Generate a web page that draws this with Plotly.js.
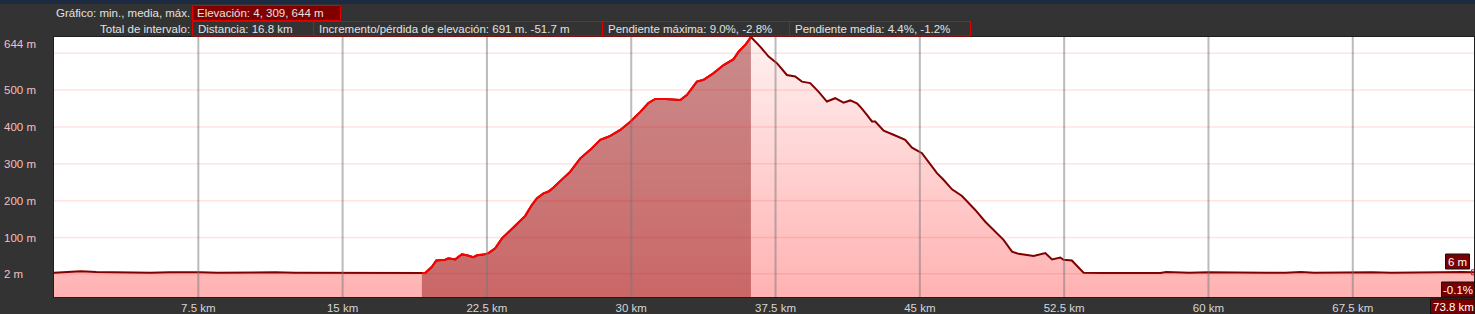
<!DOCTYPE html>
<html><head><meta charset="utf-8">
<script src="https://cdn.plot.ly/plotly-3.0.1.min.js"></script>
<style>html,body{margin:0;padding:0;background:#333;overflow:hidden}#chart{width:1475px;height:314px}</style>
</head><body><div id="chart"></div>
<script>
// ---------- data ----------
const distanceKm = [0,0.7,1.4,2.2,3.0,4.0,5.0,6.0,7.0,7.6,8.5,9.5,10.5,11.5,12.5,13.5,14.5,15.5,16.5,17.5,18.5,19.12,
  19.29,19.64,19.87,20.33,20.50,20.85,21.20,21.46,21.80,21.98,22.32,22.58,22.93,23.28,23.62,24.06,24.49,24.84,25.10,25.44,25.70,25.96,26.40,26.83,27.35,27.87,28.39,28.91,29.43,29.95,30.47,30.89,31.25,31.77,32.55,32.90,33.41,33.76,34.28,34.80,35.32,35.58,35.93,36.22,
  36.70,37.14,37.57,38.09,38.52,38.87,39.30,39.73,40.17,40.60,41.03,41.38,41.73,41.90,42.25,42.51,42.68,43.12,43.63,43.98,44.24,44.59,45.11,45.37,45.89,46.23,46.67,47.19,47.88,48.40,48.83,49.35,49.79,50.13,50.57,50.91,51.52,51.87,52.30,52.47,52.90,53.51,
  54.5,55.5,56.5,57.5,57.8,58.3,59.0,60.0,61.0,62.0,63.0,64.0,64.8,65.5,66.5,67.5,68.5,69.5,70.5,71.5,72.5,73.2,73.8];
const elevationM = [5,6,9,7,6,6,5,6,7,6,5,6,5,6,5,5,6,5,4,5,4,4,
  4,21,38,40,44,41,55,52,47,52,54,58,71,98,116,137,159,189,207,220,225,236,258,279,315,338,365,376,392,414,441,465,476,476,473,487,523,528,546,568,584,604,623,644,
  618,591,573,541,537,523,519,496,469,478,466,472,464,455,433,415,415,390,379,370,365,344,329,311,275,257,231,213,175,143,121,94,62,56,53,50,58,41,46,40,38,5,
  4,4,5,4,7,6,5,6,5,6,5,5,7,5,6,5,6,5,6,7,7,7,6];
const intervalStartKm = 19.12;
const intervalEndKm = 36.22;
const xTickVals = [7.5,15,22.5,30,37.5,45,52.5,60,67.5];
const xTickText = ['7.5 km','15 km','22.5 km','30 km','37.5 km','45 km','52.5 km','60 km','67.5 km'];
const yGridVals = [2,100,200,300,400,500,600];
const yLabelVals = [644,500,400,300,200,100,2];
const yLabelText = ['644 m','500 m','400 m','300 m','200 m','100 m','2 m'];
const header1Label = 'Gráfico: min., media, máx.';
const header1Stats = ['Elevación: 4, 309, 644 m'];
const header2Label = 'Total de intervalo:';
const header2Stats = ['Distancia: 16.8 km','Incremento/pérdida de elevación: 691 m. -51.7 m','Pendiente máxima: 9.0%, -2.8%','Pendiente media: 4.4%, -1.2%'];
const cursorElevText = '6 m';
const cursorSlopeText = '-0.1%';
const cursorDistText = '73.8 km';

// ---------- layout geometry ----------
const W=1475,H=314,L=54,R=1,T=37,B=17;
const PW=W-L-R, PH=H-T-B;
const px = x => (x-L)/PW;
const py = y => (H-B-y)/PH;
const yMin = -61, yMax = 644;
const xMax = distanceKm[distanceKm.length-1];
const FONT = 'Liberation Sans, Arial, sans-serif';
const FS = 11.5;

const ix=[], iy=[];
distanceKm.forEach((d,i)=>{ if(d>=intervalStartKm && d<=intervalEndKm){ix.push(d); iy.push(elevationM[i]);} });

const traces = [
  {x:[0,xMax], y:[yMin,yMin], mode:'lines', line:{width:0}, hoverinfo:'skip', showlegend:false},
  {x:distanceKm, y:elevationM, mode:'lines', line:{color:'#800000', width:2}, fill:'tonexty',
   fillgradient:{type:'vertical', start:yMin, stop:yMax, colorscale:[[0,'rgb(255,178,178)'],[1,'rgb(255,241,241)']]},
   hoverinfo:'skip', showlegend:false},
  {x:[ix[0], ix[ix.length-1]], y:[yMin,yMin], mode:'lines', line:{width:0}, hoverinfo:'skip', showlegend:false},
  {x:ix, y:iy, mode:'lines', line:{color:'#ff0000', width:2}, fill:'tonexty', fillcolor:'rgba(128,0,0,0.42)', hoverinfo:'skip', showlegend:false},
  {x:[xMax], y:[elevationM[elevationM.length-1]], mode:'markers', marker:{symbol:'square-open', size:5, color:'#ff0000', line:{width:1}}, cliponaxis:false, hoverinfo:'skip', showlegend:false}
];

const shapes = [];
const annotations = [];
function rectPx(x0,y0,x1,y1,fill,line){
  shapes.push({type:'rect', xref:'paper', yref:'paper', x0:px(x0), x1:px(x1), y0:py(y0), y1:py(y1),
    fillcolor:fill, line:{color:line||'rgba(0,0,0,0)', width:line?1:0}, layer:'above'});
}
function textPx(x,y,text,anchor,color){
  annotations.push({xref:'paper', yref:'paper', x:px(x), y:py(y), text:text, showarrow:false,
    xanchor:anchor, yanchor:'middle', font:{family:FONT, size:FS, color:color||'#e2e2e2'}, borderpad:0});
}
// top texture band
rectPx(0,0,W,4,'#1d2b42');
// header row 1
textPx(191,13,header1Label,'right');
rectPx(192.5,5.5,340.5,20.5,'#800000','#e00000');
textPx(196,13,header1Stats[0],'left');
// header row 2
textPx(191,29,header2Label,'right');
const row2Edges=[192.5,313.5,602.5,789.5,970.5];
header2Stats.forEach((t,i)=>{
  rectPx(row2Edges[i],21.5,row2Edges[i+1],36,'rgba(0,0,0,0)','#e00000');
  textPx(row2Edges[i]+4,29,t,'left');
});
// gridlines (drawn above the fill as in the reference)
xTickVals.forEach(v=>shapes.push({type:'line', xref:'x', yref:'paper', x0:v, x1:v, y0:0, y1:1, line:{color:'rgba(120,120,120,0.5)', width:2}, layer:'above'}));
yGridVals.forEach(v=>shapes.push({type:'line', xref:'paper', yref:'y', x0:0, x1:1, y0:v, y1:v, line:{color:'rgba(255,0,0,0.11)', width:1.5}, layer:'above'}));
// y labels
yLabelVals.forEach((v,i)=>annotations.push({xref:'paper', yref:'y', x:px(3), y:v, text:yLabelText[i], showarrow:false,
  xanchor:'left', yanchor: v===yMax?'top':'middle', font:{family:FONT,size:FS,color:'#f2c0c0'}, borderpad:0}));
// cursor boxes at right
rectPx(1445.5,254,1469.5,269,'#7a0000','#111');
textPx(1457.5,261.5,cursorElevText,'center','#ffffff');
rectPx(1441.5,282,1474.5,297,'#7a0000','#111');
textPx(1458,289.5,cursorSlopeText,'center','#ffffff');
rectPx(1430.5,299,1475,314,'#7a0000','#111');
textPx(1453,306.5,cursorDistText,'center','#ffffff');

const layout = {
  width:W, height:H, margin:{l:L,r:R,t:T,b:B,pad:0},
  paper_bgcolor:'#333333', plot_bgcolor:'#ffffff',
  showlegend:false, hovermode:false,
  xaxis:{range:[0,xMax], tickmode:'array', tickvals:xTickVals, ticktext:xTickText, showgrid:false, zeroline:false,
    ticks:'', showline:true, linecolor:'#1e1e1e', linewidth:1, mirror:true,
    tickfont:{family:FONT,size:FS,color:'#d6d6d6'}, fixedrange:true},
  yaxis:{range:[yMin,yMax], showticklabels:false, showgrid:false, zeroline:false, ticks:'',
    showline:true, linecolor:'#1e1e1e', linewidth:1, mirror:true, fixedrange:true},
  shapes:shapes, annotations:annotations
};
Plotly.newPlot('chart', traces, layout, {displayModeBar:false, staticPlot:true});
</script></body></html>
